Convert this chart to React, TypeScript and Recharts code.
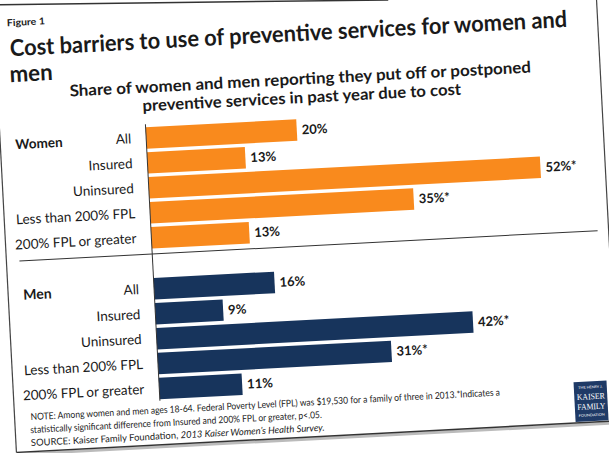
import React from "react"
import { BarChart, Bar, XAxis, YAxis, LabelList } from "recharts"

const categories = ["All", "Insured", "Uninsured", "Less than 200% FPL", "200% FPL or greater"]
const womenValues = [20, 13, 52, 35, 13]
const menValues = [16, 9, 42, 31, 11]
// * = statistically significant difference from Insured and 200% FPL or greater
const womenSignificant = [false, false, true, true, false]
const menSignificant = [false, false, true, true, false]
const axisMax = 59.4

const titleLines = ["Cost barriers to use of preventive services for women and", "men"]
const subtitleLines = [
  "Share of women and men reporting they put off or postponed",
  "preventive services in past year due to cost",
]
const noteLines = [
  "NOTE: Among women and men ages 18-64.  Federal Poverty Level (FPL) was $19,530 for a family of three in 2013.*Indicates a",
  "statistically significant difference from Insured and 200% FPL or greater, p<.05.",
]

const ORANGE = "#F98A1D"
const NAVY = "#17345C"
const INK = "#1a1a1a"

const buildRows = (values: number[], sig: boolean[]) =>
  categories.map((name, i) => ({
    name,
    value: values[i],
    label: `${values[i]}%${sig[i] ? "*" : ""}`,
  }))

function Panel({ rows, color, top }: { rows: any[]; color: string; top: number }) {
  return (
    <div style={{ position: "absolute", left: 0, top, width: 609, height: 125 }}>
      <BarChart
        layout="vertical"
        width={609}
        height={125}
        data={rows}
        margin={{ top: 0, right: 10, bottom: 0, left: 11 }}
      >
        <XAxis type="number" domain={[0, axisMax]} hide />
        <YAxis
          type="category"
          dataKey="name"
          width={140}
          interval={0}
          axisLine={false}
          tickLine={false}
          tickSize={0}
          tickMargin={15}
          tick={{ fill: INK, fontSize: 13.5 }}
        />
        <Bar dataKey="value" fill={color} barSize={21.5} isAnimationActive={false}>
          <LabelList
            dataKey="label"
            position="right"
            offset={5}
            fill={INK}
            fontSize={13}
            fontWeight={700}
          />
        </Bar>
      </BarChart>
    </div>
  )
}

export default function App() {
  const womenRows = buildRows(womenValues, womenSignificant)
  const menRows = buildRows(menValues, menSignificant)

  return (
    <div
      style={{
        position: "fixed",
        left: 0,
        top: 0,
        width: 609,
        height: 453,
        overflow: "hidden",
        background: "#fff",
        fontFamily: "Lato, 'Open Sans', sans-serif",
      }}
    >
      <div
        style={{
          position: "absolute",
          left: 0,
          top: 0,
          width: 609,
          height: 453,
          transform: "rotate(-3deg)",
          transformOrigin: "304.5px 226.5px",
        }}
      >
        <Panel rows={womenRows} color={ORANGE} top={117} />
        <Panel rows={menRows} color={NAVY} top={267.5} />

        <svg
          width={609}
          height={453}
          style={{ position: "absolute", left: 0, top: 0, overflow: "visible", pointerEvents: "none" }}
        >
          {/* page edges */}
          <line x1={12} y1={-11} x2={400} y2={4.7} stroke="#333" strokeWidth={1.5} />
          <line x1={5} y1={-11} x2={5} y2={437} stroke="#444" strokeWidth={1.2} />
          <line x1={608} y1={-30} x2={608} y2={437} stroke="#444" strokeWidth={1.2} />
          <line x1={5} y1={439} x2={640} y2={439} stroke="#bbb" strokeWidth={3} />
          <line x1={5} y1={437} x2={640} y2={437} stroke="#333" strokeWidth={1.5} />

          <text x={18} y={11} fontSize={9.5} fontWeight={700} fill={INK} textLength={38} lengthAdjust="spacingAndGlyphs">
            Figure 1
          </text>
          <text x={19.5} y={41} fontSize={23} fontWeight={700} fill={INK} textLength={558} lengthAdjust="spacingAndGlyphs">
            {titleLines[0]}
          </text>
          <text x={18} y={67} fontSize={23} fontWeight={700} fill={INK} textLength={43} lengthAdjust="spacingAndGlyphs">
            {titleLines[1]}
          </text>
          <text x={77} y={84.5} fontSize={16} fontWeight={700} fill={INK} textLength={462} lengthAdjust="spacingAndGlyphs">
            {subtitleLines[0]}
          </text>
          <text x={149} y={103} fontSize={16} fontWeight={700} fill={INK} textLength={319} lengthAdjust="spacingAndGlyphs">
            {subtitleLines[1]}
          </text>

          <text x={20} y={129.5} dy="0.35em" fontSize={13.5} fontWeight={700} fill={INK}>
            Women
          </text>
          <text x={20} y={280} dy="0.35em" fontSize={14} fontWeight={700} fill={INK}>
            Men
          </text>

          {/* category axis + panel separator */}
          <line x1={151} y1={116} x2={151} y2={393} stroke="#333" strokeWidth={1} />
          <line x1={18} y1={246} x2={597} y2={246} stroke="#333" strokeWidth={1} />

          <text x={21} y={405.5} fontSize={9.5} fill={INK} textLength={470} lengthAdjust="spacingAndGlyphs">
            {noteLines[0]}
          </text>
          <text x={20} y={418.5} fontSize={9.5} fill={INK} textLength={292} lengthAdjust="spacingAndGlyphs">
            {noteLines[1]}
          </text>
          <text x={20} y={431.5} fontSize={9.5} fill={INK} textLength={294} lengthAdjust="spacingAndGlyphs">
            SOURCE: Kaiser Family Foundation, <tspan fontStyle="italic">2013 Kaiser Women’s Health Survey.</tspan>
          </text>

          {/* logo */}
          <rect x={565} y={396} width={33} height={40} fill="#1f3a66" />
          <text x={581.5} y={403} fontSize={3.5} fill="#fff" textAnchor="middle" textLength={24} lengthAdjust="spacingAndGlyphs">THE HENRY J.</text>
          <text x={581.5} y={414} fontSize={8.5} fill="#fff" textAnchor="middle" fontFamily="'Liberation Serif', serif" textLength={28} lengthAdjust="spacingAndGlyphs">KAISER</text>
          <text x={581.5} y={424} fontSize={8.5} fill="#fff" textAnchor="middle" fontFamily="'Liberation Serif', serif" textLength={28} lengthAdjust="spacingAndGlyphs">FAMILY</text>
          <text x={581.5} y={431} fontSize={3.5} fill="#fff" textAnchor="middle" textLength={26} lengthAdjust="spacingAndGlyphs">FOUNDATION</text>
        </svg>
      </div>
    </div>
  )
}
